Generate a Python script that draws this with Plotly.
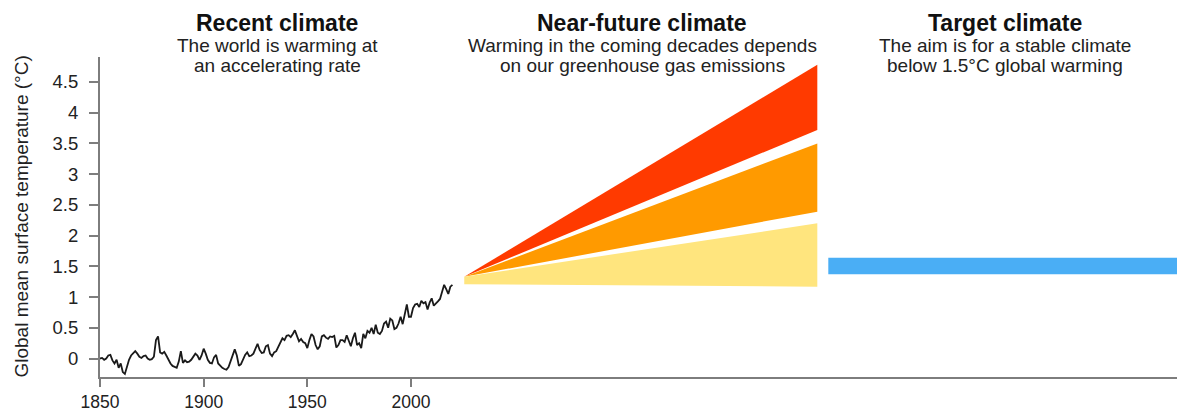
import plotly.graph_objects as go

# Annual global mean surface temperature anomaly (°C), 1850-2020
years = list(range(1850, 2021))
temps = [
    0.00, 0.01, -0.02, 0.00, 0.05, 0.06, -0.03, -0.08, -0.02, -0.15,   # 1850s
    -0.08, -0.22, -0.25, -0.12, -0.02, 0.05, 0.08, 0.12, 0.08, 0.03,   # 1860s
    0.01, 0.04, 0.05, 0.00, -0.02, -0.01, 0.03, 0.30, 0.36, 0.10,      # 1870s
    0.08, 0.11, 0.05, -0.02, -0.08, -0.12, -0.14, -0.15, -0.05, 0.12,  # 1880s
    -0.07, -0.03, -0.06, -0.05, -0.02, 0.03, 0.08, 0.05, -0.02, 0.05,  # 1890s
    0.16, 0.08, -0.02, -0.07, -0.08, 0.02, 0.06, -0.08, -0.12, -0.15,  # 1900s
    -0.17, -0.18, -0.14, -0.05, 0.05, 0.15, 0.05, -0.12, -0.09, 0.00,  # 1910s
    0.06, 0.10, 0.04, 0.05, 0.08, 0.16, 0.24, 0.14, 0.09, 0.10,        # 1920s
    0.20, 0.22, 0.08, 0.04, 0.10, 0.12, 0.20, 0.28, 0.33, 0.30,        # 1930s
    0.37, 0.38, 0.35, 0.40, 0.46, 0.37, 0.28, 0.32, 0.27, 0.25,        # 1940s
    0.17, 0.30, 0.40, 0.36, 0.22, 0.15, 0.20, 0.36, 0.38, 0.34,        # 1950s
    0.32, 0.36, 0.35, 0.37, 0.18, 0.22, 0.30, 0.30, 0.27, 0.38,        # 1960s
    0.30, 0.20, 0.33, 0.42, 0.22, 0.25, 0.17, 0.40, 0.33, 0.45,        # 1970s
    0.42, 0.50, 0.40, 0.55, 0.42, 0.40, 0.45, 0.57, 0.60, 0.50,        # 1980s
    0.65, 0.62, 0.48, 0.50, 0.57, 0.68, 0.56, 0.70, 0.88, 0.68,        # 1990s
    0.68, 0.82, 0.88, 0.89, 0.84, 0.94, 0.90, 0.92, 0.80, 0.91,        # 2000s
    0.98, 0.86, 0.89, 0.93, 0.97, 1.10, 1.20, 1.13, 1.05, 1.17,        # 2010s
    1.20,                                                              # 2020
]

# Near-future warming fans: common start, spread at the end of the period
fan_start_x = 2025.7
fan_end_x = 2196.0
fan_names = ["High emissions", "Intermediate emissions", "Low emissions"]
fan_start_top = [1.33, 1.33, 1.33]
fan_start_bottom = [1.33, 1.33, 1.21]
fan_end_top = [4.78, 3.50, 2.20]
fan_end_bottom = [3.72, 2.39, 1.17]
fan_colors = ["#FF3A00", "#FF9A00", "#FFE57E"]

# Target climate band around 1.5 °C
target_x = [2201.3, 2369.5]
target_low = 1.37
target_high = 1.64
target_color = "#4AAEF5"

x_ticks = [1850, 1900, 1950, 2000]
y_ticks = [0, 0.5, 1, 1.5, 2, 2.5, 3, 3.5, 4, 4.5]

FONT = "Liberation Sans, Arial, Helvetica, sans-serif"
AXIS_GREY = "#7d7d7d"

fig = go.Figure()

for name, st, sb, et, eb, col in zip(fan_names, fan_start_top, fan_start_bottom,
                                     fan_end_top, fan_end_bottom, fan_colors):
    fig.add_trace(go.Scatter(
        x=[fan_start_x, fan_end_x, fan_end_x, fan_start_x, fan_start_x],
        y=[st, et, eb, sb, st],
        mode="lines", fill="toself", fillcolor=col,
        line=dict(width=0, color=col), name=name, hoverinfo="skip",
    ))

fig.add_trace(go.Scatter(
    x=[target_x[0], target_x[1], target_x[1], target_x[0], target_x[0]],
    y=[target_low, target_low, target_high, target_high, target_low],
    mode="lines", fill="toself", fillcolor=target_color,
    line=dict(width=0, color=target_color), name="Target", hoverinfo="skip",
))

fig.add_trace(go.Scatter(
    x=years, y=temps, mode="lines",
    line=dict(color="#1a1a1a", width=1.8), name="Observed",
))

L, R, T, B = 99.5, 0, 57, 35
W, H = 1177, 412
pw = W - L - R
ph = H - T - B


def px_x(px):
    return (px - L) / pw


def px_y(py):
    return (H - B - py) / ph


headings = [
    (276.7, "Recent climate", ["The world is warming at", "an accelerating rate"]),
    (642.0, "Near-future climate", ["Warming in the coming decades depends",
                                    "on our greenhouse gas emissions"]),
    (1005.0, "Target climate", ["The aim is for a stable climate",
                                "below 1.5°C global warming"]),
]
annotations = []
for cx, title, lines in headings:
    annotations.append(dict(
        x=px_x(cx), y=px_y(23), xref="paper", yref="paper",
        text=f"<b>{title}</b>", showarrow=False, xanchor="center", yanchor="middle",
        font=dict(family=FONT, size=23, color="#111111"),
    ))
    for i, ln in enumerate(lines):
        annotations.append(dict(
            x=px_x(cx), y=px_y(45.5 + 20 * i), xref="paper", yref="paper",
            text=ln, showarrow=False, xanchor="center", yanchor="middle",
            font=dict(family=FONT, size=19, color="#222222"),
        ))

annotations.append(dict(
    x=px_x(20), y=0.5, xref="paper", yref="paper",
    text="Global mean surface temperature (°C)", textangle=-90,
    showarrow=False, xanchor="center", yanchor="middle",
    font=dict(family=FONT, size=19, color="#222222"),
))

fig.update_layout(
    width=W, height=H,
    margin=dict(l=L, r=R, t=T, b=B, pad=0, autoexpand=False),
    paper_bgcolor="white", plot_bgcolor="white",
    showlegend=False,
    annotations=annotations,
    font=dict(family=FONT, color="#222222"),
)
fig.update_xaxes(
    range=[1850, 2369.5], tickvals=x_ticks, ticks="outside", ticklen=8,
    tickwidth=1.5, tickcolor=AXIS_GREY, showline=True, linecolor=AXIS_GREY,
    linewidth=2, showgrid=False, zeroline=False, ticklabelstandoff=0,
    automargin=False,
    tickfont=dict(family=FONT, size=17.5, color="#222222"),
)
fig.update_yaxes(
    range=[-0.3, 4.906], tickvals=y_ticks, ticks="outside", ticklen=9,
    tickwidth=1.5, tickcolor=AXIS_GREY, showline=True, linecolor=AXIS_GREY,
    linewidth=2, showgrid=False, zeroline=False, ticklabelstandoff=7,
    automargin=False,
    tickfont=dict(family=FONT, size=18.5, color="#222222"),
)

fig.write_html("out.html")
